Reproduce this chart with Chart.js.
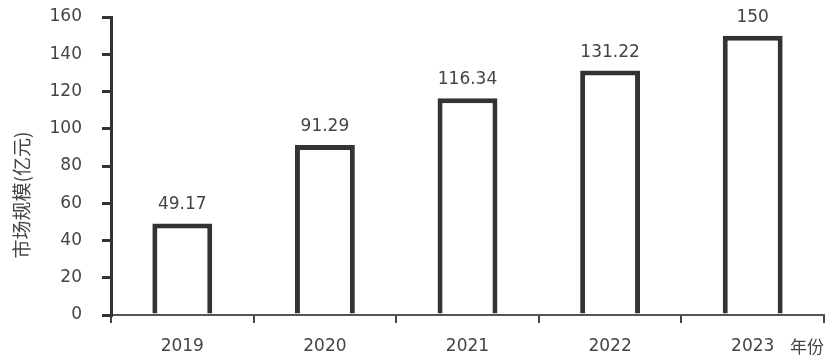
<!DOCTYPE html>
<html>
<head>
<meta charset="utf-8">
<script src="https://cdn.jsdelivr.net/npm/chart.js@4"></script>
<style>
  html, body { margin: 0; padding: 0; background: #fff; }
  #wrap { width: 831px; height: 360px; }
</style>
</head>
<body>
<div id="wrap"><canvas id="chart1"></canvas></div>
<script>
// données
const annees = ["2019", "2020", "2021", "2022", "2023"];
const marche = [49.17, 91.29, 116.34, 131.22, 150];
const etiquettes = ["49.17", "91.29", "116.34", "131.22", "150"];
const titreY = "市场规模(亿元)";
const titreX = "年份";

const txtColor = '#444';
const police = "'DejaVu Sans', 'Noto Sans CJK SC', sans-serif";

// valeurs au dessus des barres + titres des axes
const textePlugin = {
	id: 'textes',
	afterDatasetsDraw(chart) {
		const ctx = chart.ctx;
		const meta = chart.getDatasetMeta(0);
		ctx.save();
		ctx.fillStyle = txtColor;
		ctx.font = "17px " + police;
		ctx.textAlign = 'center';
		ctx.textBaseline = 'bottom';
		meta.data.forEach((bar, i) => {
			ctx.fillText(etiquettes[i], bar.x, bar.y - 10);
		});

		// "年份" a droite de l'axe x
		ctx.font = "17px 'Noto Sans CJK SC', sans-serif";
		ctx.textAlign = 'left';
		ctx.textBaseline = 'middle';
		ctx.fillText(titreX, 790, 347);

		// titre y vertical
		ctx.translate(22, 195);
		ctx.rotate(-Math.PI / 2);
		ctx.textAlign = 'center';
		ctx.font = "19px 'Noto Sans CJK SC', sans-serif";
		ctx.fillText(titreY, 0, 0);
		ctx.restore();
	}
};

const ctx1 = document.getElementById('chart1');

new Chart(ctx1, {
	type: 'bar',
	data: {
		labels: annees,
		datasets: [
			{
				data: marche,
				backgroundColor: '#ffffff',
				borderColor: '#333333',
				borderWidth: 5,
				barPercentage: 0.42,
				categoryPercentage: 1,
			},
		]
	},
	options: {
		responsive: true,
		maintainAspectRatio: false,
		animation: false,
		layout: { padding: { top: 17, right: 7, left: 0, bottom: 0 } },
		plugins: {
			legend: { display: false },
			tooltip: { enabled: false },
		},
		scales: {
			x: {
				afterFit: (s) => { s.height = 45; s.paddingLeft = 0; s.paddingRight = 0; },
				grid: {
					offset: true,
					drawOnChartArea: false,
					drawTicks: true,
					tickLength: 8,
					color: '#444',
					lineWidth: 2,
				},
				border: { color: '#555', width: 2 },
				ticks: {
					color: txtColor,
					font: { size: 17, family: police },
					padding: 13,
				}
			},
			y: {
				min: 0,
				max: 160,
				afterFit: (s) => { s.width = 111; s.paddingTop = 0; s.paddingBottom = 0; },
				grid: {
					drawOnChartArea: false,
					drawTicks: true,
					tickLength: 9,
					color: '#333',
					lineWidth: 3,
				},
				border: { color: '#333', width: 3 },
				ticks: {
					stepSize: 20,
					color: txtColor,
					font: { size: 17, family: police },
					padding: 20,
				}
			}
		}
	},
	plugins: [textePlugin]
});
</script>
</body>
</html>
